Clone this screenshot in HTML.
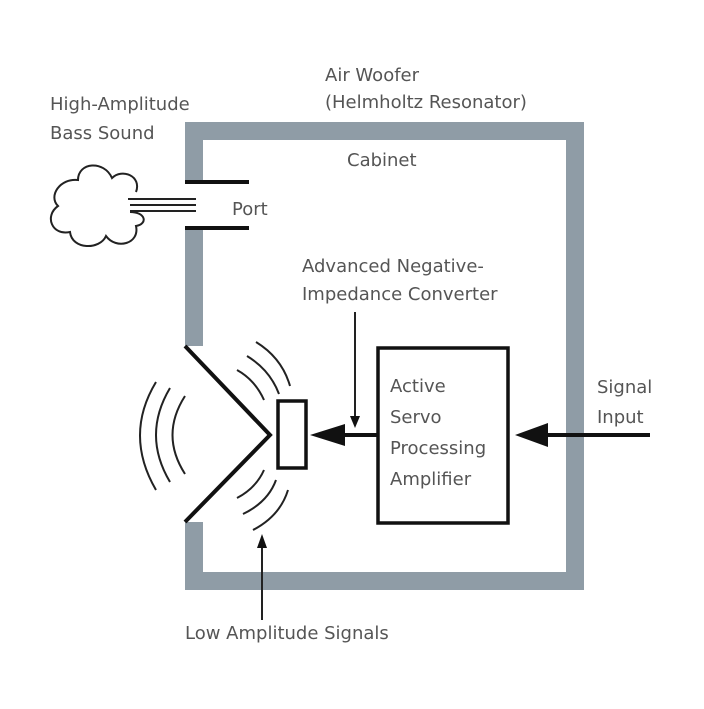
<!DOCTYPE html>
<html><head><style>
body{margin:0;background:#fff}
svg text{font-family:"DejaVu Sans","Liberation Sans",sans-serif;font-size:18px;fill:#555}
</style></head><body>
<svg width="704" height="704" viewBox="0 0 704 704" xmlns="http://www.w3.org/2000/svg">
<g fill="#8f9ca6">
<rect x="185" y="122" width="399" height="18"/>
<rect x="566" y="122" width="18" height="468"/>
<rect x="185" y="572" width="399" height="18"/>
<rect x="185" y="122" width="18" height="60"/>
<rect x="185" y="228" width="18" height="118"/>
<rect x="185" y="522" width="18" height="68"/>
</g>
<g stroke="#111" stroke-width="4" fill="none">
<line x1="185" y1="182" x2="249" y2="182"/>
<line x1="185" y1="228" x2="249" y2="228"/>
<polyline points="185,346 270,435 185,522"/>
<rect x="278" y="401" width="28" height="67" stroke-width="3.5"/>
<rect x="378" y="348" width="130" height="175" stroke-width="3.5"/>
<line x1="345" y1="435" x2="378" y2="435"/>
<line x1="548" y1="435" x2="650" y2="435"/>
</g>
<g stroke="#222" stroke-width="2" fill="none">
<line x1="128" y1="199" x2="196" y2="199"/>
<line x1="130" y1="205" x2="196" y2="205"/>
<line x1="130" y1="211" x2="196" y2="211"/>
<path d="M136,192 C142,176 122,168 112,178 C104,160 78,162 78,180 C60,178 48,196 58,206 C44,216 52,236 70,232 C72,250 100,250 106,236 C116,250 140,244 136,226 C148,224 146,212 130,212"/>
<path d="M156,382 Q124,435 156,490"/>
<path d="M170,388 Q142,435 170,482"/>
<path d="M185,396 Q160,435 185,474"/>
<path d="M237,370 Q255,380 264,400"/>
<path d="M247,356 Q270,370 279,394"/>
<path d="M256,342 Q282,358 290,386"/>
<path d="M237,498 Q256,488 264,470"/>
<path d="M243,514 Q268,502 276,480"/>
<path d="M253,530 Q280,516 288,490"/>
<line x1="355" y1="312" x2="355" y2="420"/>
<line x1="262" y1="620" x2="262" y2="545"/>
</g>
<g fill="#111">
<polygon points="310,435 345,424 345,446"/>
<polygon points="515,435 548,423 548,447"/>
<polygon points="355,428 350,416 360,416"/>
<polygon points="262,534 257,548 267,548"/>
</g>
<text x="50" y="110">High-Amplitude</text>
<text x="50" y="139">Bass Sound</text>
<text x="325" y="81">Air Woofer</text>
<text x="325" y="108">(Helmholtz Resonator)</text>
<text x="347" y="166">Cabinet</text>
<text x="232" y="215">Port</text>
<text x="302" y="272">Advanced Negative-</text>
<text x="302" y="300">Impedance Converter</text>
<text x="390" y="392">Active</text>
<text x="390" y="423">Servo</text>
<text x="390" y="454">Processing</text>
<text x="390" y="485">Amplifier</text>
<text x="597" y="393">Signal</text>
<text x="597" y="423">Input</text>
<text x="185" y="639">Low Amplitude Signals</text>
</svg>
</body></html>
